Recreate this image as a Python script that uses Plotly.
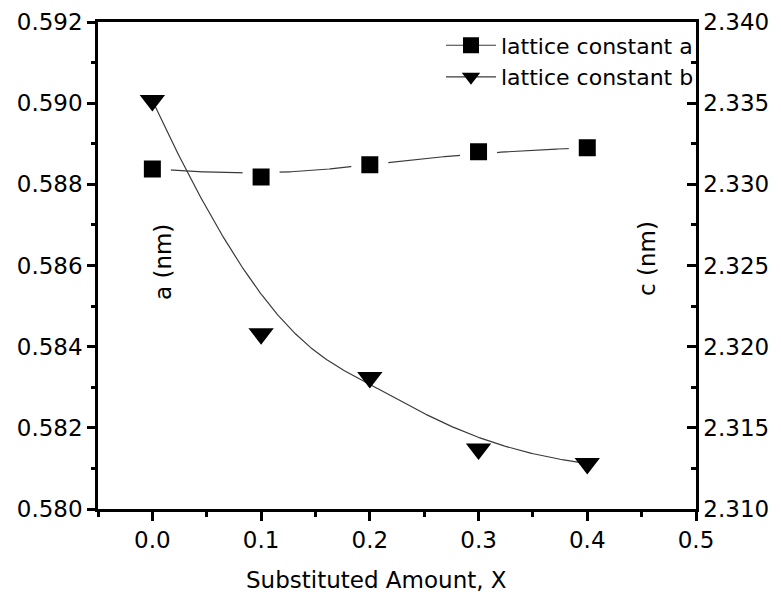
import numpy as np
import plotly.graph_objects as go

# ---- data ----
x_amount = [0.0, 0.1, 0.2, 0.3, 0.4]
lattice_a = [0.58838, 0.58818, 0.58848, 0.58880, 0.58890]
lattice_c = [2.33516, 2.3208, 2.3181, 2.3137, 2.3128]
x_ticks = [0.0, 0.1, 0.2, 0.3, 0.4, 0.5]
series_names = ["lattice constant a", "lattice constant b"]


def bspline(xs, ys, n=300, k=3):
    """Clamped cubic B-spline using the data points as control points."""
    P = np.column_stack([xs, ys]).astype(float)
    m = len(P)
    inner = list(range(1, m - k))
    knots = np.array([0] * (k + 1) + inner + [m - k] * (k + 1), dtype=float)
    ts = np.linspace(0, m - k, n)
    out = []
    for t in ts:
        if t >= knots[-1]:
            out.append(P[-1])
            continue
        s = np.searchsorted(knots, t, side="right") - 1
        d = [P[j + s - k].copy() for j in range(k + 1)]
        for r in range(1, k + 1):
            for j in range(k, r - 1, -1):
                i = j + s - k
                den = knots[i + k + 1 - r] - knots[i]
                a = 0 if den == 0 else (t - knots[i]) / den
                d[j] = (1 - a) * d[j - 1] + a * d[j]
        out.append(d[k])
    out = np.array(out)
    return out[:, 0], out[:, 1]


ax_s, ay_s = bspline(x_amount, lattice_a)
cx_s, cy_s = bspline(x_amount, lattice_c)

FONT = "DejaVu Sans, Arial, sans-serif"
LINE_C = "#3a3a3a"

fig = go.Figure()
fig.add_trace(go.Scatter(x=ax_s, y=ay_s, mode="lines", line=dict(color=LINE_C, width=1.2),
                         showlegend=False, hoverinfo="skip"))
# square markers with a white halo so the curve appears broken around them
fig.add_trace(go.Scatter(x=x_amount, y=lattice_a, mode="markers", name=series_names[0],
                         marker=dict(symbol="square", size=27, color="black",
                                     line=dict(color="white", width=10)),
                         showlegend=False))
fig.add_trace(go.Scatter(x=cx_s, y=cy_s, mode="lines", line=dict(color=LINE_C, width=1.2),
                         showlegend=False, hoverinfo="skip", yaxis="y2"))
fig.add_trace(go.Scatter(x=x_amount, y=lattice_c, mode="markers", name=series_names[1],
                         marker=dict(symbol="triangle-down", size=22, color="black"),
                         showlegend=False, yaxis="y2"))
fig.add_trace(go.Scatter(x=[None], y=[None], mode="lines+markers", name=series_names[0],
                         line=dict(color=LINE_C, width=1.2),
                         marker=dict(symbol="square", size=17, color="black")))
fig.add_trace(go.Scatter(x=[None], y=[None], mode="lines+markers", name=series_names[1],
                         line=dict(color=LINE_C, width=1.2),
                         marker=dict(symbol="triangle-down", size=22, color="black"),
                         yaxis="y2"))

axis_common = dict(showline=True, linecolor="black", linewidth=2.5, showgrid=False,
                   zeroline=False, tickcolor="black", tickwidth=2.5, automargin=False,
                   tickfont=dict(family=FONT, size=23, color="black"))

fig.update_layout(
    width=773, height=589,
    margin=dict(l=90, r=85, t=14, b=88),
    paper_bgcolor="white", plot_bgcolor="white",
    font=dict(family=FONT, color="black"),
    xaxis=dict(range=[-0.05, 0.5], tickvals=x_ticks, tickformat=".1f", ticks="outside",
               ticklen=9, mirror=True,
               minor=dict(dtick=0.05, tick0=0, ticks="outside", ticklen=5, tickwidth=2.5,
                          tickcolor="black"),
               **axis_common),
    yaxis=dict(range=[0.580, 0.592], dtick=0.002, tick0=0.580, tickformat=".3f",
               ticks="outside", ticklen=8,
               minor=dict(dtick=0.001, ticks="outside", ticklen=4, tickwidth=2.5,
                          tickcolor="black"),
               **axis_common),
    yaxis2=dict(range=[2.310, 2.340], dtick=0.005, tick0=2.310, tickformat=".3f",
                overlaying="y", side="right", ticks="inside", ticklen=9,
                minor=dict(dtick=0.0025, ticks="inside", ticklen=5, tickwidth=2.5,
                           tickcolor="black"),
                **axis_common),
    legend=dict(x=1.005, xanchor="right", y=0.995, yanchor="top", bgcolor="rgba(0,0,0,0)",
                font=dict(family=FONT, size=22, color="black"), tracegroupgap=0,
                itemwidth=50),
    showlegend=True,
    annotations=[
        dict(text="Substituted Amount, X", xref="paper", yref="paper", x=0.465, y=-0.146,
             xanchor="center", yanchor="middle", showarrow=False,
             font=dict(family=FONT, size=23, color="black")),
        dict(text="a (nm)", xref="paper", yref="paper", x=(163 - 98) / 598, y=(509 - 262) / 487,
             xanchor="center", yanchor="middle", textangle=-90, showarrow=False,
             font=dict(family=FONT, size=23, color="black")),
        dict(text="c (nm)", xref="paper", yref="paper", x=(647 - 98) / 598, y=(509 - 259) / 487,
             xanchor="center", yanchor="middle", textangle=-90, showarrow=False,
             font=dict(family=FONT, size=23, color="black")),
    ],
)

fig.write_html("out.html")
